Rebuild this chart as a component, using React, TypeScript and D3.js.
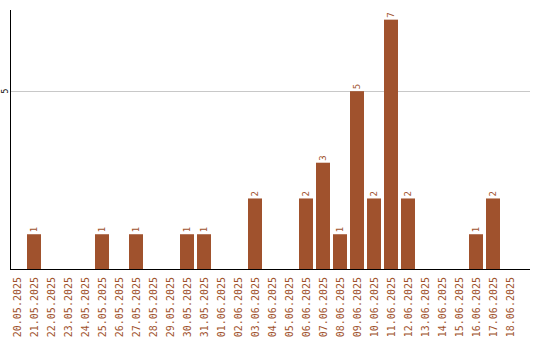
import React from "react";
import * as d3 from "d3";

const dates = [
  "20.05.2025", "21.05.2025", "22.05.2025", "23.05.2025", "24.05.2025",
  "25.05.2025", "26.05.2025", "27.05.2025", "28.05.2025", "29.05.2025",
  "30.05.2025", "31.05.2025", "01.06.2025", "02.06.2025", "03.06.2025",
  "04.06.2025", "05.06.2025", "06.06.2025", "07.06.2025", "08.06.2025",
  "09.06.2025", "10.06.2025", "11.06.2025", "12.06.2025", "13.06.2025",
  "14.06.2025", "15.06.2025", "16.06.2025", "17.06.2025", "18.06.2025",
];
const counts = [
  0, 1, 0, 0, 0, 1, 0, 1, 0, 0,
  1, 1, 0, 0, 2, 0, 0, 2, 3, 1,
  5, 2, 7, 2, 0, 0, 0, 1, 2, 0,
];
const yTicks = [5];

const W = 540;
const H = 340;
const COLOR = "#A0522D";
const FONT = "'DejaVu Sans Mono', monospace";

export default function App() {
  const x = d3.scaleBand<string>()
    .domain(dates)
    .range([7, 520])
    .paddingInner(3 / 17)
    .paddingOuter(3 / 17)
    .align(0.5);
  const y = d3.scaleLinear().domain([0, 7.27]).range([270, 10]);
  const x0 = 10.5;
  const x1 = 530;

  return (
    <svg width={W} height={H} style={{ position: "fixed", left: 0, top: 0, background: "#fff" }}>
      {yTicks.map((t) => (
        <g key={t}>
          <line x1={x0} x2={x1} y1={Math.round(y(t)) + 0.5} y2={Math.round(y(t)) + 0.5} stroke="#c8c8c8" strokeWidth={1} shapeRendering="crispEdges" />
          <text
            transform={`translate(5,${y(t)}) rotate(-90)`}
            textAnchor="middle"
            dy="0.35em"
            fontFamily={FONT}
            fontSize={8}
            fill="#000"
          >
            {t}
          </text>
        </g>
      ))}
      {dates.map((d, i) => {
        const v = counts[i];
        const cx = (x(d) ?? 0) + x.bandwidth() / 2;
        return (
          <g key={d}>
            {v > 0 && (
              <>
                <rect x={x(d)} y={y(v)} width={x.bandwidth()} height={y(0) - y(v)} fill={COLOR} />
                <text
                  transform={`translate(${cx},${y(v) - 2}) rotate(-90)`}
                  textAnchor="start"
                  dy="0.35em"
                  fontFamily={FONT}
                  fontSize={9}
                  fill={COLOR}
                >
                  {v}
                </text>
              </>
            )}
            <text
              transform={`translate(${cx},277) rotate(-90)`}
              textAnchor="end"
              dy="0.35em"
              fontFamily={FONT}
              fontSize={10}
              fill={COLOR}
            >
              {d}
            </text>
          </g>
        );
      })}
      <line x1={x0} x2={x0} y1={10} y2={270} stroke="#000" strokeWidth={1} shapeRendering="crispEdges" />
      <line x1={x0} x2={x1} y1={269.5} y2={269.5} stroke="#000" strokeWidth={1} shapeRendering="crispEdges" />
    </svg>
  );
}
